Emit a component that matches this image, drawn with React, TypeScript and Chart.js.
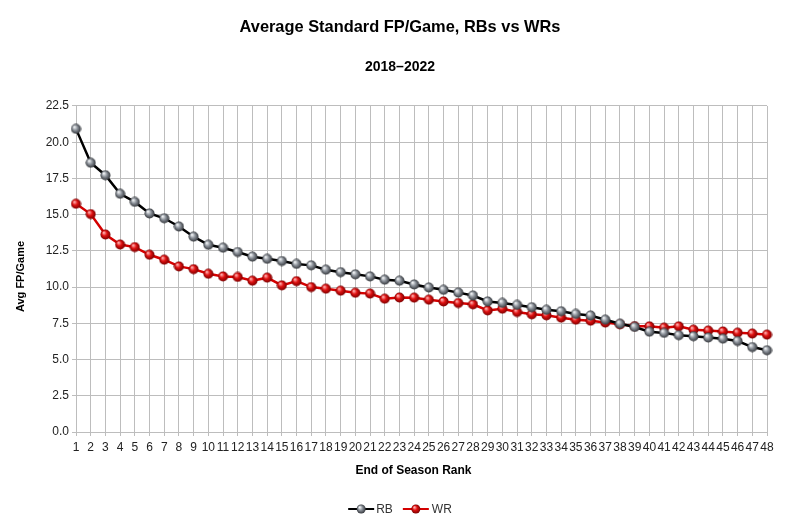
import React, { useEffect, useRef } from "react";
import { Chart, registerables } from "chart.js";

Chart.register(...registerables);

const RANKS: string[] = Array.from({ length: 48 }, (_, i) => String(i + 1));

const RB_VALUES: number[] = [
  20.92, 18.58, 17.72, 16.44, 15.88, 15.08, 14.75, 14.18, 13.48, 12.92,
  12.72, 12.42, 12.1, 11.95, 11.8, 11.6, 11.5, 11.2, 11.03, 10.88,
  10.74, 10.51, 10.44, 10.18, 9.97, 9.81, 9.62, 9.42, 9.01, 8.91,
  8.77, 8.61, 8.43, 8.33, 8.15, 8.04, 7.75, 7.47, 7.25, 6.92,
  6.84, 6.68, 6.61, 6.52, 6.44, 6.28, 5.86, 5.64,
];

const WR_VALUES: number[] = [
  15.75, 15.04, 13.63, 12.94, 12.76, 12.23, 11.89, 11.43, 11.24, 10.92,
  10.74, 10.7, 10.44, 10.65, 10.12, 10.41, 10.0, 9.89, 9.75, 9.61,
  9.55, 9.2, 9.28, 9.27, 9.13, 9.01, 8.9, 8.81, 8.39, 8.51,
  8.28, 8.12, 8.05, 7.89, 7.75, 7.68, 7.55, 7.43, 7.3, 7.29,
  7.2, 7.29, 7.06, 7.0, 6.94, 6.85, 6.79, 6.72,
];

const SERIES_NAMES: string[] = ["RB", "WR"];
const TITLE = "Average Standard FP/Game, RBs vs WRs";
const SUBTITLE = "2018–2022";
const X_TITLE = "End of Season Rank";
const Y_TITLE = "Avg FP/Game";

const FONT = "'Liberation Sans', Arial, sans-serif";

function drawSphere(ctx: CanvasRenderingContext2D, cx: number, cy: number, r: number, cols: string[]) {
  const g = ctx.createRadialGradient(cx - r * 0.35, cy - r * 0.4, r * 0.1, cx, cy, r);
  g.addColorStop(0, cols[0]);
  g.addColorStop(0.45, cols[1]);
  g.addColorStop(1, cols[2]);
  ctx.beginPath();
  ctx.arc(cx, cy, r, 0, Math.PI * 2);
  ctx.fillStyle = g;
  ctx.fill();
}

function makeSphere(cols: string[]): HTMLCanvasElement {
  const c = document.createElement("canvas");
  c.width = 11;
  c.height = 11;
  const ctx = c.getContext("2d")!;
  drawSphere(ctx, 5.5, 5.5, 5, cols);
  return c;
}

const GRAY_SPHERE = ["#f2f4f6", "#8d939b", "#33363b"];
const RED_SPHERE = ["#ffb0b0", "#e01010", "#7a0000"];
const RB_LINE = "#000000";
const WR_LINE = "#d40000";

const extrasPlugin = {
  id: "extras",
  afterDraw(chart: any) {
    const ctx: CanvasRenderingContext2D = chart.ctx;
    const area = chart.chartArea;
    ctx.save();
    // y-axis title
    ctx.font = `bold 11px ${FONT}`;
    ctx.fillStyle = "#000";
    ctx.textAlign = "center";
    ctx.textBaseline = "middle";
    ctx.translate(21, area.top + (area.bottom - area.top) / 2 + 7.5);
    ctx.rotate(-Math.PI / 2);
    ctx.fillText(Y_TITLE, 0, 0);
    ctx.restore();

    // x-axis title
    ctx.save();
    ctx.font = `bold 12px ${FONT}`;
    ctx.fillStyle = "#000";
    ctx.textAlign = "center";
    ctx.textBaseline = "middle";
    ctx.fillText(X_TITLE, (area.left + area.right) / 2 - 8, area.bottom + 39);
    ctx.restore();

    // legend
    ctx.save();
    ctx.font = `12px ${FONT}`;
    ctx.textBaseline = "middle";
    ctx.textAlign = "left";
    const lines = [RB_LINE, WR_LINE];
    const spheres = [GRAY_SPHERE, RED_SPHERE];
    const iconW = 26;
    const widths = SERIES_NAMES.map((n) => ctx.measureText(n).width);
    const total = iconW * 2 + 2 + 3 + 10 + widths[0] + widths[1];
    let x = chart.width / 2 - total / 2;
    const y = 509;
    SERIES_NAMES.forEach((name, i) => {
      ctx.strokeStyle = lines[i];
      ctx.lineWidth = 2;
      ctx.beginPath();
      ctx.moveTo(x, y);
      ctx.lineTo(x + iconW, y);
      ctx.stroke();
      drawSphere(ctx, x + iconW / 2, y, 4.5, spheres[i]);
      x += iconW + (i === 0 ? 2 : 3);
      ctx.fillStyle = "#333";
      ctx.fillText(name, x, y + 0.5);
      x += widths[i] + 10;
    });
    ctx.restore();
  },
};

export default function App() {
  const ref = useRef<HTMLCanvasElement | null>(null);

  useEffect(() => {
    document.body.style.margin = "0";
    const rbPt = makeSphere(GRAY_SPHERE);
    const wrPt = makeSphere(RED_SPHERE);
    const chart = new Chart(ref.current!, {
      type: "line",
      data: {
        labels: RANKS,
        datasets: [
          {
            label: SERIES_NAMES[0],
            data: RB_VALUES,
            borderColor: RB_LINE,
            borderWidth: 2.5,
            pointStyle: rbPt as any,
            pointRadius: 5,
            tension: 0,
          },
          {
            label: SERIES_NAMES[1],
            data: WR_VALUES,
            borderColor: WR_LINE,
            borderWidth: 2.5,
            pointStyle: wrPt as any,
            pointRadius: 5,
            tension: 0,
          },
        ],
      },
      plugins: [extrasPlugin],
      options: {
        responsive: false,
        animation: false,
        layout: { padding: { left: 0, right: 0, top: 0, bottom: 0 } },
        plugins: {
          title: {
            display: true,
            text: TITLE,
            color: "#000",
            font: { family: FONT, size: 16.4, weight: "bold" },
            padding: { top: 18, bottom: 20 },
          },
          subtitle: {
            display: true,
            text: SUBTITLE,
            color: "#000",
            font: { family: FONT, size: 14, weight: "bold" },
            padding: { top: 1.5, bottom: 30 },
          },
          legend: { display: false },
          tooltip: { enabled: false },
        },
        scales: {
          x: {
            type: "category",
            offset: false,
            grid: { color: "#bdbdbd", tickLength: 4, drawTicks: true },
            border: { color: "#bdbdbd" },
            ticks: {
              autoSkip: false,
              maxRotation: 0,
              minRotation: 0,
              color: "#222",
              font: { family: FONT, size: 12 },
              padding: 4,
            },
            afterFit: (s: any) => {
              s.height = 90;
              s.paddingRight = 33;
            },
          },
          y: {
            min: 0,
            max: 22.5,
            grid: { color: "#bdbdbd", tickLength: 4, drawTicks: true },
            border: { color: "#bdbdbd" },
            ticks: {
              stepSize: 2.5,
              color: "#222",
              font: { family: FONT, size: 12 },
              padding: 3,
              callback: (v: any) => Number(v).toFixed(1),
            },
            afterFit: (s: any) => {
              s.width = 76;
            },
          },
        },
      },
    });
    return () => chart.destroy();
  }, []);

  return (
    <div style={{ position: "absolute", left: 0, top: 0, width: 800, height: 522, background: "#fff" }}>
      <canvas ref={ref} width={800} height={522} style={{ display: "block" }} />
    </div>
  );
}
